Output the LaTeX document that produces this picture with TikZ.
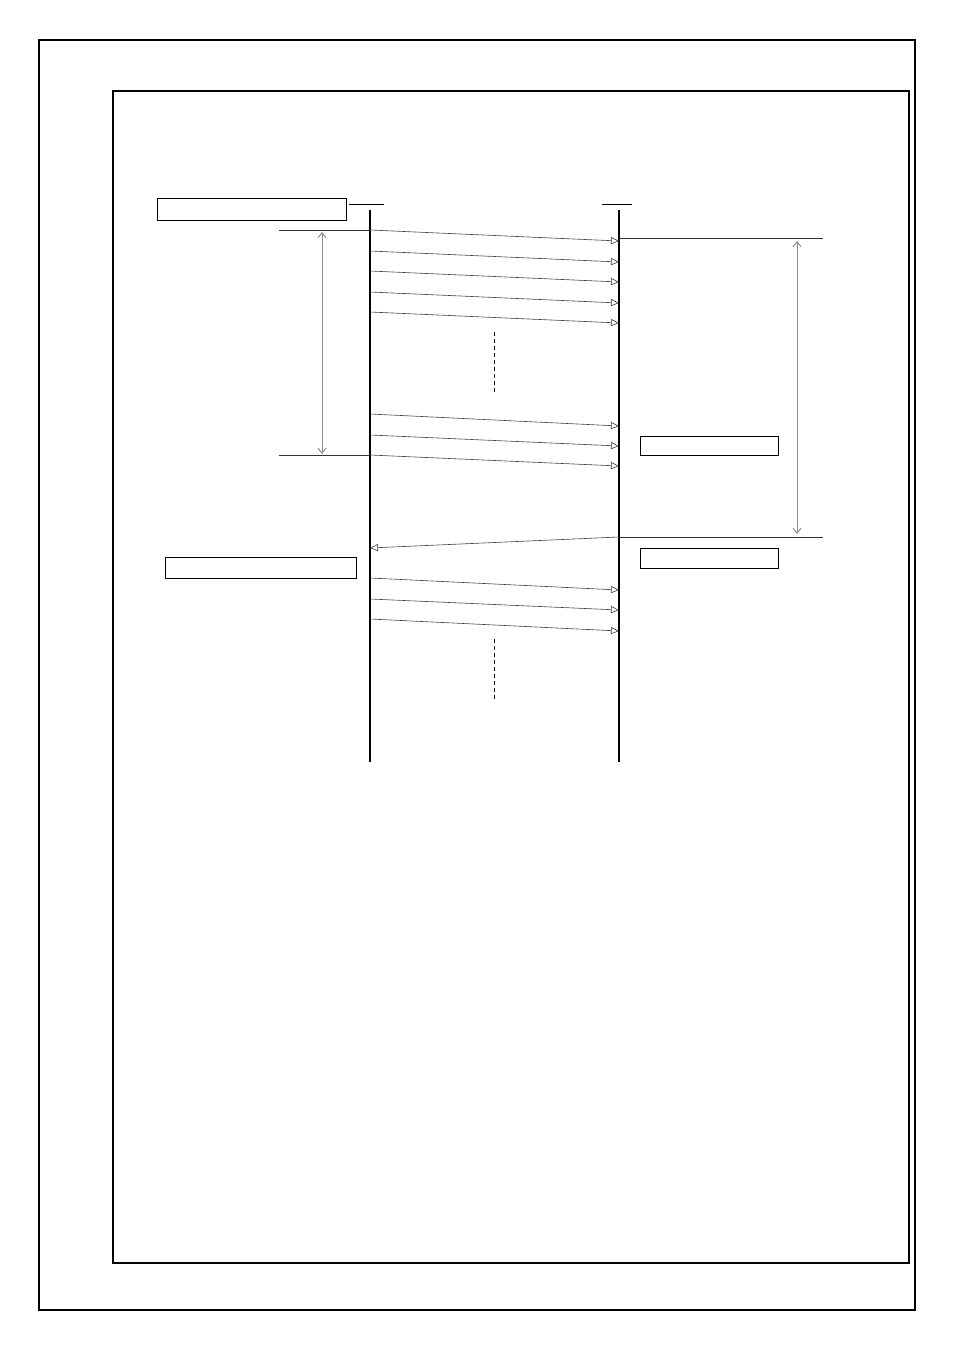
\documentclass[tikz,border=0pt]{standalone}
\usetikzlibrary{arrows.meta}
\begin{document}
\begin{tikzpicture}[x=1pt,y=-1pt,
  frame/.style={draw=black,line width=1.4pt},
  lifeline/.style={draw=black,line width=1.3pt},
  msg/.style={draw=black!75,line width=0.6pt,-{Triangle[open,length=8pt,width=7pt]}},
  span/.style={draw=black!45,line width=1pt,{Straight Barb[length=5pt,width=8pt]}-{Straight Barb[length=5pt,width=8pt]}},
  rule/.style={draw=black!80,line width=0.7pt},
  labelbox/.style={draw=black,line width=1pt,minimum height=20pt,inner sep=0pt},
  ellips/.style={draw=black,line width=0.6pt,dash pattern=on 4pt off 3pt}]
\useasboundingbox (0,0) rectangle (954,1351);
\draw[line width=1.3pt] (39,40) rectangle (915,1310);
\draw[frame,line width=2.2pt] (113,91) rectangle (909,1263);
% lifelines
\coordinate (Ltop) at (370,210); \coordinate (Lbot) at (370,762);
\coordinate (Rtop) at (619,210); \coordinate (Rbot) at (619,762);
\draw[lifeline] (Ltop) -- (Lbot);
\draw[lifeline] (Rtop) -- (Rbot);
\draw[line width=1pt] (349,204) -- (384,204);
\draw[line width=1pt] (602,204) -- (632,204);
% boxes
\node[labelbox,minimum width=189pt,minimum height=21pt] (b1) at (251.5,209.5) {};
\node[labelbox,minimum width=191pt,minimum height=21pt] (b2) at (260.5,567.5) {};
\node[labelbox,minimum width=138pt,minimum height=19pt] (b3) at (709,445.5) {};
\node[labelbox,minimum width=138pt,minimum height=20pt] (b4) at (709,558) {};
% messages group 1
\foreach \i/\ya/\yb in {1/230/241,2/251/262,3/271/282,4/292/303,5/312/323,6/414/426,7/435/446,8/455/466}{
  \coordinate (s\i) at (370,\ya); \coordinate (e\i) at (619,\yb);
  \draw[msg] (s\i) -- (e\i);
}
\coordinate (d1a) at (494,332); \coordinate (d1b) at (494,393);
\draw[ellips] (d1a) -- (d1b);
% left span
\coordinate (lt) at (279,230); \coordinate (lb) at (279,455);
\draw[rule] (lt) -- (s1);
\draw[rule] (lb) -- (s8);
\coordinate (la) at (322,232); \coordinate (lz) at (322,454);
\draw[span] (la) -- (lz);
% right span
\coordinate (rt0) at (619,238); \coordinate (rt) at (823,238);
\coordinate (rb0) at (619,537); \coordinate (rb) at (823,537);
\draw[rule] (rt0) -- (rt);
\draw[rule] (rb0) -- (rb);
\coordinate (ra) at (797,241); \coordinate (rz) at (797,534);
\draw[span] (ra) -- (rz);
% reply
\coordinate (rr) at (370,548);
\draw[msg] (rb0) -- (rr);
% messages group 2
\foreach \i/\ya/\yb in {9/578/590,10/599/610,11/619/631}{
  \coordinate (s\i) at (370,\ya); \coordinate (e\i) at (619,\yb);
  \draw[msg] (s\i) -- (e\i);
}
\coordinate (d2a) at (494,639); \coordinate (d2b) at (494,700);
\draw[ellips] (d2a) -- (d2b);
\end{tikzpicture}
\end{document}
